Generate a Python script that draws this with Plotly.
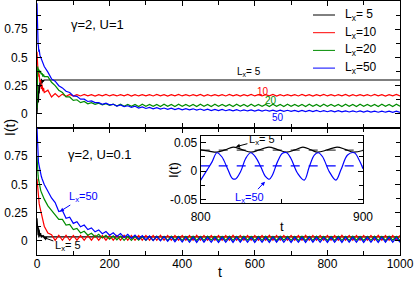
import plotly.graph_objects as go

W, H = 415, 283

# ---------------- data ----------------
T_EARLY = [0, 1, 2, 3, 4, 5, 6, 8, 10, 12, 14, 16, 18]
T_LATE = [20, 30, 40, 50, 60, 70, 80, 90, 100, 110, 120, 130, 140, 150, 160, 170, 180, 190, 200,
          210, 220, 230, 240, 250, 260, 270, 280, 290, 300, 310, 320, 330, 340, 350, 360, 370, 380, 390, 400,
          410, 420, 430, 440, 450, 460, 470, 480, 490, 500, 510, 520, 530, 540, 550, 560, 570, 580, 590, 600,
          610, 620, 630, 640, 650, 660, 670, 680, 690, 700, 710, 720, 730, 740, 750, 760, 770, 780, 790, 800,
          810, 820, 830, 840, 850, 860, 870, 880, 890, 900, 910, 920, 930, 940, 950, 960, 970, 980, 990, 1000]
T_FLAT_END = [20, 1000]

# top panel: gamma=2, U=1
TOP_L5 = [0.0, 0.12, 0.05, 0.2, 0.1, 0.25, 0.18, 0.28, 0.24, 0.31, 0.27, 0.3, 0.29] + [0.30, 0.30]
TOP_L10 = [0.55, 0.42, 0.48, 0.36, 0.40, 0.33, 0.35, 0.28, 0.30, 0.22, 0.26, 0.20, 0.23] + [
    0.19, 0.21, 0.15, 0.18, 0.15, 0.175, 0.155, 0.172, 0.158,
    0.171, 0.159, 0.172, 0.160, 0.170, 0.158, 0.171, 0.160, 0.172, 0.159,
    0.170, 0.159, 0.171, 0.160, 0.172, 0.158, 0.171, 0.159, 0.170, 0.160,
    0.171, 0.159, 0.172, 0.160, 0.170, 0.158, 0.171, 0.160, 0.172, 0.159,
    0.170, 0.159, 0.171, 0.160, 0.172, 0.158, 0.171, 0.159, 0.170, 0.160,
    0.171, 0.159, 0.172, 0.160, 0.170, 0.158, 0.171, 0.160, 0.172, 0.159,
    0.170, 0.159, 0.171, 0.160, 0.172, 0.158, 0.171, 0.159, 0.170, 0.160,
    0.171, 0.159, 0.172, 0.160, 0.170, 0.158, 0.171, 0.160, 0.172, 0.159,
    0.170, 0.159, 0.171, 0.160, 0.172, 0.158, 0.171, 0.159, 0.170, 0.160,
    0.171, 0.159, 0.172, 0.160, 0.170, 0.158, 0.171, 0.160, 0.172, 0.159]
TOP_L20 = [0.05, 0.30, 0.42, 0.38, 0.40, 0.37, 0.39, 0.36, 0.38, 0.35, 0.36, 0.33, 0.35] + [
    0.33, 0.33, 0.28, 0.25, 0.21, 0.19, 0.15, 0.15, 0.12, 0.125, 0.10, 0.11, 0.09, 0.10, 0.085, 0.095,
    0.08, 0.09, 0.075, 0.087, 0.07, 0.085, 0.068, 0.084,
    0.067, 0.084, 0.066, 0.085, 0.068, 0.083, 0.067, 0.084, 0.066, 0.085,
    0.067, 0.084, 0.066, 0.085, 0.068, 0.083, 0.067, 0.084, 0.066, 0.085,
    0.067, 0.084, 0.066, 0.085, 0.068, 0.083, 0.067, 0.084, 0.066, 0.085,
    0.067, 0.084, 0.066, 0.085, 0.068, 0.083, 0.067, 0.084, 0.066, 0.085,
    0.067, 0.084, 0.066, 0.085, 0.068, 0.083, 0.067, 0.084, 0.066, 0.085,
    0.067, 0.084, 0.066, 0.085, 0.068, 0.083, 0.067, 0.084, 0.066, 0.085,
    0.067, 0.084, 0.066, 0.085, 0.068, 0.083, 0.067, 0.084, 0.066, 0.085,
    0.067, 0.084, 0.066, 0.085, 0.068]
TOP_L50 = [0.98, 0.75, 0.68, 0.62, 0.60, 0.55, 0.57, 0.52, 0.50, 0.48, 0.46, 0.45, 0.44] + [
    0.42, 0.37, 0.31, 0.29, 0.25, 0.23, 0.20, 0.19, 0.16, 0.155, 0.13, 0.13, 0.11, 0.115, 0.10, 0.10,
    0.085, 0.095, 0.08, 0.085, 0.07, 0.08, 0.065, 0.072, 0.058, 0.068, 0.052, 0.062, 0.048, 0.058,
    0.045, 0.055, 0.042, 0.052, 0.04, 0.05, 0.038, 0.048, 0.036, 0.046, 0.035, 0.045, 0.033, 0.043,
    0.032, 0.042, 0.03, 0.04, 0.029, 0.039, 0.028, 0.038,
    0.027, 0.037, 0.026, 0.036, 0.026, 0.035, 0.025, 0.035, 0.024, 0.034, 0.024, 0.033, 0.023, 0.033,
    0.022, 0.032, 0.022, 0.031, 0.021, 0.031, 0.02, 0.03, 0.02, 0.03, 0.019, 0.029, 0.019, 0.028,
    0.018, 0.028, 0.018, 0.027, 0.017, 0.027, 0.017, 0.026, 0.016, 0.026, 0.016, 0.025, 0.015, 0.025,
    0.015, 0.024, 0.014, 0.024, 0.014]

# bottom panel: gamma=2, U=0.1
BOT_L5 = [0.20, 0.08, 0.15, 0.05, 0.12, 0.03, 0.10, 0.04, 0.07, 0.03, 0.05, 0.035, 0.045] + [0.036, 0.036]
BOT_L10 = [0.55, 0.50, 0.47, 0.42, 0.40, 0.36, 0.33, 0.30, 0.27, 0.24, 0.20, 0.17, 0.15] + [
    0.13, 0.07, 0.055, 0.005, 0.05, 0.005, 0.05, 0.005,
    0.048, 0.006, 0.047, 0.005, 0.049, 0.006, 0.048, 0.005, 0.047, 0.006,
    0.048, 0.006, 0.047, 0.005, 0.049, 0.006, 0.048, 0.005, 0.047, 0.006,
    0.048, 0.006, 0.047, 0.005, 0.049, 0.006, 0.048, 0.005, 0.047, 0.006,
    0.048, 0.006, 0.047, 0.005, 0.049, 0.006, 0.048, 0.005, 0.047, 0.006,
    0.048, 0.006, 0.047, 0.005, 0.049, 0.006, 0.048, 0.005, 0.047, 0.006,
    0.048, 0.006, 0.047, 0.005, 0.049, 0.006, 0.048, 0.005, 0.047, 0.006,
    0.048, 0.006, 0.047, 0.005, 0.049, 0.006, 0.048, 0.005, 0.047, 0.006,
    0.048, 0.006, 0.047, 0.005, 0.049, 0.006, 0.048, 0.005, 0.047, 0.006,
    0.048, 0.006, 0.047, 0.005, 0.049, 0.006, 0.048, 0.005, 0.047, 0.006,
    0.048]
BOT_L20 = [0.75, 0.62, 0.60, 0.58, 0.55, 0.53, 0.50, 0.47, 0.45, 0.43, 0.41, 0.39, 0.38] + [
    0.37, 0.31, 0.27, 0.24, 0.19, 0.19, 0.14, 0.145, 0.10, 0.11, 0.07, 0.085, 0.05, 0.068, 0.035, 0.058,
    0.025, 0.05, 0.015, 0.045, 0.01, 0.042,
    0.005, 0.040, 0.004, 0.041, 0.006, 0.039, 0.005, 0.040, 0.004, 0.041,
    0.005, 0.040, 0.004, 0.041, 0.006, 0.039, 0.005, 0.040, 0.004, 0.041,
    0.005, 0.040, 0.004, 0.041, 0.006, 0.039, 0.005, 0.040, 0.004, 0.041,
    0.005, 0.040, 0.004, 0.041, 0.006, 0.039, 0.005, 0.040, 0.004, 0.041,
    0.005, 0.040, 0.004, 0.041, 0.006, 0.039, 0.005, 0.040, 0.004, 0.041,
    0.005, 0.040, 0.004, 0.041, 0.006, 0.039, 0.005, 0.040, 0.004, 0.041,
    0.005, 0.040, 0.004, 0.041, 0.006, 0.039, 0.005, 0.040, 0.004, 0.041,
    0.005, 0.040, 0.004, 0.041, 0.006, 0.039, 0.005]
BOT_L50 = [1.00, 0.85, 0.78, 0.74, 0.70, 0.68, 0.66, 0.62, 0.60, 0.57, 0.55, 0.53, 0.51] + [
    0.5, 0.44, 0.38, 0.34, 0.26, 0.27, 0.2, 0.21, 0.155, 0.17, 0.125, 0.14, 0.1, 0.115, 0.08, 0.097,
    0.063, 0.083, 0.05, 0.072, 0.04, 0.065, 0.03, 0.058, 0.022, 0.052, 0.015, 0.047, 0.008, 0.043,
    0.003, 0.04, 0.0, 0.037, -0.004, 0.035, -0.007, 0.034, -0.01, 0.033,
    -0.012, 0.032, -0.013, 0.033, -0.011, 0.032, -0.012, 0.031, -0.013, 0.032,
    -0.012, 0.032, -0.013, 0.033, -0.011, 0.032, -0.012, 0.031, -0.013, 0.032,
    -0.012, 0.032, -0.013, 0.033, -0.011, 0.032, -0.012, 0.031, -0.013, 0.032,
    -0.012, 0.032, -0.013, 0.033, -0.011, 0.032, -0.012, 0.031, -0.013, 0.032,
    -0.012, 0.032, -0.013, 0.033, -0.011, 0.032, -0.012, 0.031, -0.013, 0.032,
    -0.012, 0.032, -0.013, 0.033, -0.011, 0.032, -0.012, 0.031, -0.013]

# inset (U=0.1, 800 <= t <= 900)
T_IN_50 = [800, 804, 807, 810, 813, 816.4, 819.5, 821.5, 824.6, 827.7, 830.8, 833.9, 837, 840, 842.2,
           844.2, 847.3, 850.4, 853, 855.6, 859.7, 863.8, 866.9, 870, 872.5, 875.1, 879.2, 883.3,
           886.4, 890.5, 894.6, 897.7, 900]
IN_L50 = [-0.016, 0.002, 0.016, 0.032, 0.025, 0.005, -0.013, -0.014, -0.001, 0.022, 0.032, 0.024,
          0.0075, -0.010, -0.0145, -0.007, 0.016, 0.031, 0.032, 0.022, -0.004, -0.016, 0.0075, 0.028,
          0.032, 0.025, -0.001, -0.016, 0.002, 0.028, 0.032, 0.019, 0.004]
T_IN_5 = [800, 805, 810, 815, 820, 825, 831, 836, 842, 847, 853, 858, 863, 868, 872, 878, 884, 889, 894, 900]
IN_L5 = [0.037, 0.035, 0.033, 0.037, 0.042, 0.038, 0.033, 0.037, 0.042, 0.038, 0.033, 0.037, 0.042,
         0.037, 0.033, 0.037, 0.042, 0.038, 0.033, 0.036]
T_IN_MEAN = [800, 900]
IN_MEAN_L5 = [0.0365, 0.0365]
IN_MEAN_L50 = [0.009, 0.009]

SIZES = ["L<sub>x</sub>= 5", "L<sub>x</sub>=10", "L<sub>x</sub>=20", "L<sub>x</sub>=50"]
COLORS = ["#000000", "#ff0000", "#008c00", "#0000ff"]

for s in (TOP_L10, TOP_L20, TOP_L50, BOT_L10, BOT_L20, BOT_L50):
    assert len(s) == len(T_EARLY) + len(T_LATE), len(s)

T_ALL = T_EARLY + T_LATE
T_FLAT = T_EARLY + T_FLAT_END

# ---------------- figure ----------------
FONT = "Liberation Sans, Arial, sans-serif"
LW = 1.2


def px(x):
    return x / W


def py(y):
    return 1 - y / H


fig = go.Figure()

top_series = [(T_FLAT, TOP_L5), (T_ALL, TOP_L10), (T_ALL, TOP_L20), (T_ALL, TOP_L50)]
bot_series = [(T_FLAT, BOT_L5), (T_ALL, BOT_L10), (T_ALL, BOT_L20), (T_ALL, BOT_L50)]
for (t, v), c in zip(top_series, COLORS):
    fig.add_trace(go.Scatter(x=t, y=v, mode="lines", line=dict(color=c, width=LW),
                             xaxis="x", yaxis="y", showlegend=False))
for (t, v), c in zip(bot_series, COLORS):
    fig.add_trace(go.Scatter(x=t, y=v, mode="lines", line=dict(color=c, width=LW),
                             xaxis="x2", yaxis="y2", showlegend=False))

fig.add_trace(go.Scatter(x=T_IN_MEAN, y=IN_MEAN_L5, mode="lines",
                         line=dict(color="#444444", width=1.2, dash="dash"),
                         xaxis="x3", yaxis="y3", showlegend=False))
fig.add_trace(go.Scatter(x=T_IN_MEAN, y=IN_MEAN_L50, mode="lines",
                         line=dict(color="#0000ff", width=1.2, dash="dash"),
                         xaxis="x3", yaxis="y3", showlegend=False))
fig.add_trace(go.Scatter(x=T_IN_5, y=IN_L5, mode="lines", line=dict(color="#000000", width=LW, shape="spline"),
                         xaxis="x3", yaxis="y3", showlegend=False))
fig.add_trace(go.Scatter(x=T_IN_50, y=IN_L50, mode="lines", line=dict(color="#0000ff", width=LW, shape="spline"),
                         xaxis="x3", yaxis="y3", showlegend=False))

common = dict(showline=True, linecolor="black", linewidth=1, mirror="allticks", ticks="inside",
              tickcolor="black", ticklen=5, tickwidth=1, showgrid=False, zeroline=False,
              automargin=False,
              tickfont=dict(family=FONT, size=12, color="black"))
minor_x = dict(ticks="inside", ticklen=4, tickcolor="black", dtick=100, tick0=0, showgrid=False)
minor_y = dict(ticks="inside", ticklen=4, tickcolor="black", dtick=0.125, tick0=0, showgrid=False)

XDOM = [px(37), px(400)]
YTICKS = [0, 0.25, 0.5, 0.75]
YTICKTEXT = ["0", "0.25", "0.5", "0.75"]

fig.update_layout(
    width=W, height=H, margin=dict(l=0, r=0, t=0, b=0, autoexpand=False),
    paper_bgcolor="white", plot_bgcolor="rgba(0,0,0,0)",
    font=dict(family=FONT, size=12, color="black"),
    xaxis=dict(domain=XDOM, anchor="y", range=[0, 1000], dtick=200, tick0=0, showticklabels=False,
               minor=minor_x, **common),
    yaxis=dict(domain=[py(128), py(1)], anchor="x", range=[-0.125, 1.0], tickvals=YTICKS,
               ticktext=YTICKTEXT, minor=minor_y, ticklabelstandoff=6, **common),
    xaxis2=dict(domain=XDOM, anchor="y2", range=[0, 1000], dtick=200, tick0=0,
                minor=minor_x, ticklabelstandoff=-2, **common),
    yaxis2=dict(domain=[py(255), py(128)], anchor="x2", range=[-0.125, 1.0], tickvals=YTICKS,
                ticktext=YTICKTEXT, minor=minor_y, ticklabelstandoff=6, **common),
    xaxis3=dict(domain=[px(200.7), px(363)], anchor="y3", range=[800, 900], tickvals=[800, 900],
                minor=dict(ticks="inside", ticklen=4, tickcolor="black", tickvals=[850]),
                ticklabelstandoff=3, **common),
    yaxis3=dict(domain=[py(202.7), py(136)], anchor="x3", range=[-0.0556, 0.0614],
                tickvals=[-0.05, 0, 0.05], ticktext=["-0.05", "0", "0.05"],
                minor=dict(ticks="inside", ticklen=4, tickcolor="black", tickvals=[-0.025, 0.025]),
                ticklabelstandoff=0, **common),
)

ann = []


def text(x, y, s, size=12, color="black", xanchor="center", angle=0):
    ann.append(dict(x=px(x), y=py(y), xref="paper", yref="paper", text=s, showarrow=False,
                    xanchor=xanchor, yanchor="middle", textangle=angle,
                    font=dict(family=FONT, size=size, color=color)))


# axis titles
text(10, 128, "I(t)", size=14, angle=-90)
text(220, 272, "t", size=14)
text(173, 170, "I(t)", size=13, angle=-90)
text(282, 226, "t", size=13)

# panel captions
text(97, 24, "γ=2, U=1", size=13)
text(100, 154, "γ=2, U=0.1", size=13)

# top-panel curve labels
text(249, 72, "L<sub>x</sub>= 5", size=10)
text(263, 91, "10", size=10, color=COLORS[1])
text(271, 100, "20", size=10, color=COLORS[2])
text(278, 117, "50", size=10, color=COLORS[3])

# legend (manual)
shapes = []
for i, (lab, col) in enumerate(zip(SIZES, COLORS)):
    yy = 15 + i * 17.7
    shapes.append(dict(type="line", xref="paper", yref="paper", x0=px(313), x1=px(335),
                       y0=py(yy), y1=py(yy), line=dict(color=col, width=1)))
    text(343, yy, lab, size=12, xanchor="left")


def arrow(x, y, xr, yr, s, ax, ay, color, size=11):
    ann.append(dict(x=x, y=y, xref=xr, yref=yr, text=s, showarrow=True, ax=ax, ay=ay,
                    arrowhead=2, arrowsize=0.8, arrowwidth=1, arrowcolor=color, standoff=0,
                    font=dict(family=FONT, size=size, color=color)))


arrow(63, 0.26, "x2", "y2", "L<sub>x</sub>=50", 24, -15, COLORS[3])
arrow(16, 0.033, "x2", "y2", "L<sub>x</sub>= 5", 25, 9, "black")
arrow(821.7, 0.0425, "x3", "y3", "L<sub>x</sub>= 5", 26, -7, "black")
arrow(839.6, -0.0187, "x3", "y3", "L<sub>x</sub>=50", -15, 16, COLORS[3])

fig.update_layout(annotations=ann, shapes=shapes)
fig.write_html("out.html", config={"displayModeBar": False},
               post_script="document.body.style.margin='0';document.body.style.overflow='hidden';")
